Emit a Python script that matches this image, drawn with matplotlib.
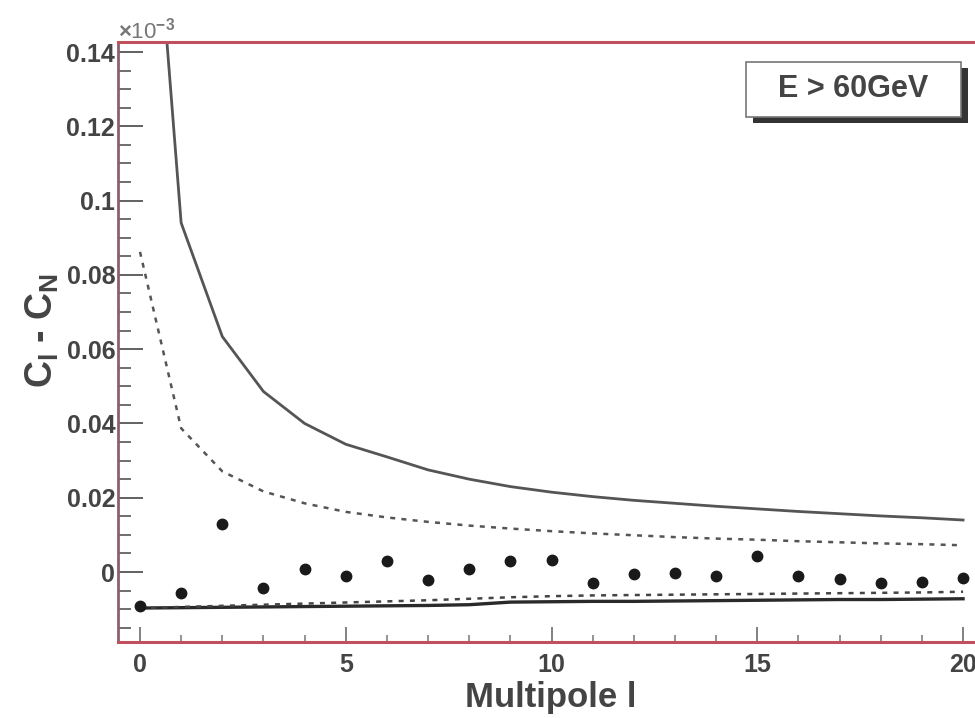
import numpy as np
import matplotlib.pyplot as plt
from matplotlib.ticker import MultipleLocator, FixedFormatter, FixedLocator
from matplotlib.patches import Rectangle

plt.rcParams['font.family'] = ['Liberation Sans', 'DejaVu Sans']
plt.rcParams['mathtext.fontset'] = 'custom'
plt.rcParams['mathtext.rm'] = 'Liberation Sans:bold'
plt.rcParams['mathtext.it'] = 'Liberation Sans:bold'
plt.rcParams['mathtext.bf'] = 'Liberation Sans:bold'

# multipole l
ell = np.arange(0, 21)

# measured C_l - C_N (dots)
data = [-0.0091, -0.0056, 0.0130, -0.0044, 0.0008, -0.0011, 0.0029, -0.0022,
        0.0008, 0.0029, 0.0032, -0.0030, -0.0005, -0.0003, -0.0011, 0.0043,
        -0.0011, -0.0019, -0.0030, -0.0027, -0.0016]

# upper / lower bands
upper_solid = [0.235, 0.094, 0.0634, 0.0486, 0.040, 0.0344, 0.031, 0.0275, 0.025,
               0.023, 0.0215, 0.0203, 0.0193, 0.0185, 0.0177, 0.017, 0.0163,
               0.0157, 0.0151, 0.0146, 0.014]
upper_dash = [0.0862, 0.0387, 0.0271, 0.0217, 0.0185, 0.0162, 0.0147, 0.0135,
              0.0125, 0.0117, 0.011, 0.0104, 0.0099, 0.0094, 0.009, 0.0087,
              0.0083, 0.008, 0.0077, 0.0075, 0.0072]
lower_solid = [-0.0097, -0.0096, -0.0095, -0.0094, -0.0093, -0.0092, -0.0091,
               -0.0090, -0.0088, -0.0081, -0.0080, -0.0079, -0.0079, -0.0078,
               -0.0077, -0.0076, -0.0075, -0.0074, -0.0074, -0.0073, -0.0072]
lower_dash = [-0.0097, -0.0094, -0.0091, -0.0088, -0.0085, -0.0082, -0.0079,
              -0.0076, -0.0072, -0.0068, -0.0065, -0.0063, -0.0062, -0.0061,
              -0.0060, -0.0059, -0.0058, -0.0057, -0.0056, -0.0055, -0.0053]

ytick_vals = [0, 0.02, 0.04, 0.06, 0.08, 0.1, 0.12, 0.14]
ytick_labels = ['0', '0.02', '0.04', '0.06', '0.08', '0.1', '0.12', '0.14']

fig = plt.figure(figsize=(9.75, 7.18), dpi=100)
ax = fig.add_axes([0.121, 0.1058, 0.879, 0.8357])

ax.plot(ell, upper_solid, color='#555555', lw=2.0)
ax.plot(ell, upper_dash, color='#555555', lw=1.8, linestyle=(0, (2, 2.5)))
ax.plot(ell, lower_solid, color='#2a2a2a', lw=2.4)
ax.plot(ell, lower_dash, color='#444444', lw=1.8, linestyle=(0, (2, 2.5)))
ax.plot(ell, data, 'o', color='#1a1a1a', markersize=7.5, linestyle='none')

ax.set_xlim(-0.535, 20.29)
ax.set_ylim(-0.01885, 0.1427)

# ticks, ROOT style
ax.xaxis.set_major_locator(MultipleLocator(5))
ax.xaxis.set_minor_locator(MultipleLocator(1))
ax.yaxis.set_major_locator(FixedLocator(ytick_vals))
ax.yaxis.set_major_formatter(FixedFormatter(ytick_labels))
ax.yaxis.set_minor_locator(MultipleLocator(0.005))
ax.tick_params(axis='y', which='major', direction='in', length=18, width=1.3,
               color='#555555', labelsize=18, labelcolor='#444444', pad=2)
ax.tick_params(axis='y', which='minor', direction='in', length=9, width=1.2,
               color='#555555')
ax.tick_params(axis='x', which='major', direction='in', length=11, width=1.3,
               color='#777777', labelsize=18, labelcolor='#444444', pad=8)
ax.tick_params(axis='x', which='minor', direction='in', length=5, width=1.1,
               color='#777777')
for lab in ax.get_xticklabels() + ax.get_yticklabels():
    lab.set_fontweight('bold')

for side in ['top', 'bottom']:
    ax.spines[side].set_color('#c0505e')
    ax.spines[side].set_linewidth(2.2)
ax.spines['left'].set_color('#8a6070')
ax.spines['left'].set_linewidth(2.0)
ax.spines['right'].set_visible(False)

ax.set_xlabel('Multipole l', fontsize=25, fontweight='bold', color='#444444',
              va='center')
ax.xaxis.set_label_coords(0.505, -0.092)
ax.set_ylabel(r'$C_l$ - $C_N$', fontsize=27, fontweight='bold', color='#444444',
              va='center', ha='center')
ax.yaxis.set_label_coords(-0.088, 0.52)

fig.text(0.121, 0.958, r'$\times$10$^{-3}$', fontsize=16, color='#777777',
         ha='left', va='center')

# label box with shadow
shadow = Rectangle((753 / 975, 1 - 123 / 718), 215 / 975, 55 / 718,
                   transform=fig.transFigure, facecolor='#333333',
                   edgecolor='none', zorder=5)
box = Rectangle((746 / 975, 1 - 117 / 718), 215 / 975, 55 / 718,
                transform=fig.transFigure, facecolor='white',
                edgecolor='#777777', lw=1.2, zorder=6)
fig.add_artist(shadow)
fig.add_artist(box)
fig.text((746 + 107) / 975, 1 - 89 / 718, 'E > 60GeV', fontsize=22,
         fontweight='bold', color='#444444', ha='center', va='center', zorder=7)

fig.savefig('out.png', dpi=100)
